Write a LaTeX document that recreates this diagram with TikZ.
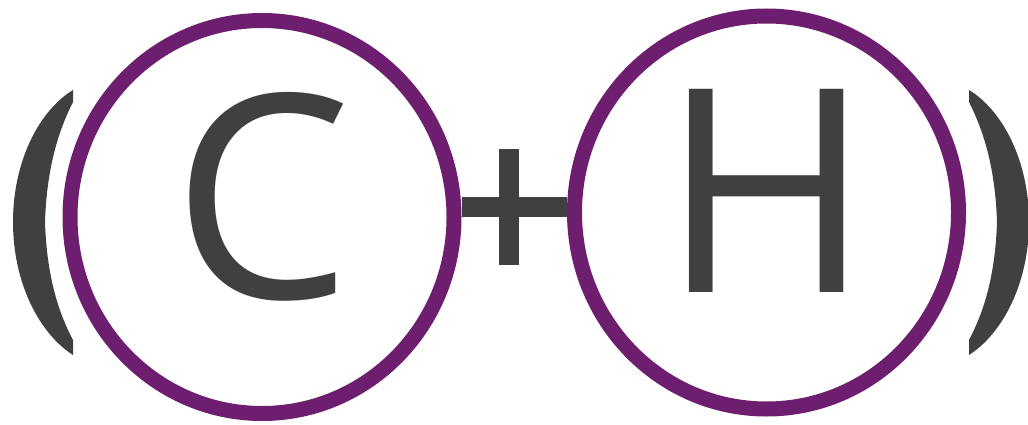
\documentclass[tikz,border=0pt]{standalone}
\usepackage{fontspec}
\setmainfont{Open Sans}
\usepackage{tikz}
\usetikzlibrary{shapes.geometric}
\usepackage{xcolor}
\definecolor{atompurple}{RGB}{110, 30, 110}
\definecolor{bondgray}{RGB}{64, 64, 64}

\begin{document}
\begin{tikzpicture}[
  atom/.style={ellipse, draw=atompurple, line width=0.15cm, fill=white,
    minimum width=3.84cm, minimum height=3.93cm, inner sep=0pt,
    text=bondgray, font=\fontsize{81}{81}\selectfont, text depth=0.44cm},
  bond/.style={bondgray, line width=0.2cm}]

  \useasboundingbox (0, 0) rectangle (10.28, 4.24);

  % Atoms
  \node[atom] (C) at (2.62, 2.07) {C};
  \node[atom] (H) at (7.665, 2.115) {H};

  % Bond with the plus sign
  \coordinate (plus) at (5.09, 2.17);
  \draw[bond] (C.east |- plus) -- (H.west |- plus);
  \draw[bond] (plus) ++(0, 0.58) -- ++(0, -1.16);

  % Brackets, left and mirrored right
  \foreach \side/\shift in {1/0, -1/10.42} {
    \begin{scope}[xshift=\shift cm, xscale=\side]
      \fill[bondgray] (0.73, 3.34) .. controls (0.40, 3.14) and (0.13, 2.64) .. (0.13, 2.02)
        .. controls (0.13, 1.40) and (0.40, 0.90) .. (0.73, 0.69) -- (0.73, 0.84)
        .. controls (0.62, 1.05) and (0.47, 1.40) .. (0.45, 2.02)
        .. controls (0.47, 2.64) and (0.62, 3.00) .. (0.73, 3.22) -- cycle;
    \end{scope}
  }

\end{tikzpicture}
\end{document}
